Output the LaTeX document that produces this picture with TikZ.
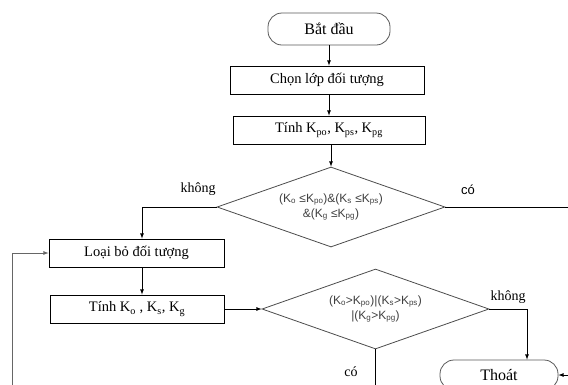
\documentclass[tikz,border=0pt]{standalone}
\usepackage{fontspec}
\setmainfont{Liberation Serif}
\newfontfamily\condfont{Liberation Sans}
\usetikzlibrary{shapes.geometric}

\begin{document}
\begin{tikzpicture}[x=1pt,y=-1pt,
  box/.style={draw,line width=0.8pt,inner sep=0pt,minimum height=28pt,font=\fontsize{14.5}{16}\selectfont},
  term/.style={draw=black!65,line width=0.8pt,rounded corners=14pt,inner sep=0pt,minimum height=32pt,font=\fontsize{16}{18}\selectfont},
  cond/.style={diamond,draw=black!70,line width=0.8pt,inner sep=0pt,aspect=2.85,minimum width=228pt,minimum height=80pt,align=center,text=black!75,font=\condfont\fontsize{12}{15}\selectfont},
  lbl/.style={font=\fontsize{14}{16}\selectfont},
  arr/.style={-latex,line width=0.8pt}]
  \useasboundingbox (0,0) rectangle (568,384);
  \clip (0,0) rectangle (568,384);

  \node[term,minimum width=122pt] (start) at (329,29) {Bắt đầu};
  \node[box,minimum width=194pt] (chon) at (327,80) {Chọn lớp đối tượng};
  \node[box,minimum width=192pt] (tinhp) at (329,130) {Tính K\textsubscript{po}, K\textsubscript{ps}, K\textsubscript{pg}};
  \node[cond] (d1) at (331,207) {(K\textsubscript{o} ≤K\textsubscript{po})\&(K\textsubscript{s} ≤K\textsubscript{ps})\\\&(K\textsubscript{g} ≤K\textsubscript{pg})};
  \node[box,minimum width=175pt] (loai) at (136.5,253) {Loại bỏ đối tượng};
  \node[box,minimum width=174pt] (tinhk) at (137,309) {Tính K\textsubscript{o} , K\textsubscript{s}, K\textsubscript{g}};
  \node[cond,minimum width=227pt] (d2) at (375.5,309) {(K\textsubscript{o}>K\textsubscript{po})|(K\textsubscript{s}>K\textsubscript{ps})\\|(K\textsubscript{g}>K\textsubscript{pg})};
  \node[term,minimum width=118pt,minimum height=30pt] (thoat) at (499,375) {Thoát};

  \node[lbl] (khong1) at (198,189) {không};
  \node[font=\condfont\fontsize{13}{15}\selectfont] (co1) at (468,190) {có};
  \node[lbl] (khong2) at (508,297) {không};
  \node[lbl] (co2) at (351,372) {có};

  \coordinate (colx) at (142,0);
  \coordinate (d1out) at (575,207);
  \coordinate (d2out) at (375.5,400);
  \coordinate (loopin) at (12,400);
  \coordinate (thoatin) at (575,375);

  \draw[arr] (start.south) -- (start.south |- chon.north);
  \draw[arr] (tinhp.north |- chon.south) -- (tinhp.north);
  \draw[arr] (tinhp.south -| d1.north) -- (d1.north);
  \draw[arr] (d1.west) -| (colx |- loai.north);
  \draw (d1.east) -- (d1out);
  \draw[arr] (loai.south -| colx) -- (tinhk.north -| colx);
  \draw[arr] (tinhk.east) -- (d2.west);
  \draw[arr] (d2.east) -| ([xshift=28pt]thoat.north);
  \draw (d2.south) -- (d2out);
  \draw[arr,draw=black!60] (loopin) |- (loai.west);
  \draw[arr] (thoatin) -- (thoat.east);
\end{tikzpicture}
\end{document}
